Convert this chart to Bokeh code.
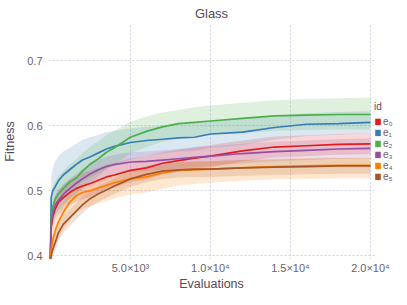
from bokeh.plotting import figure
from bokeh.models import Legend, LegendItem, FixedTicker, Range1d
from bokeh.embed import file_html
from bokeh.resources import INLINE

evals = [0, 50, 150, 300, 500, 800, 1200, 1600, 2000, 2500, 3000, 3500, 4000,
         5000, 6000, 7000, 8000, 9000, 10000, 12000, 14000, 16000, 18000, 20000]

e0_mean = [0.395, 0.445, 0.46, 0.472, 0.482, 0.489, 0.497, 0.503, 0.507, 0.511, 0.516, 0.521, 0.524,
           0.531, 0.535, 0.542, 0.546, 0.550, 0.553, 0.561, 0.567, 0.569, 0.571, 0.572]
e0_hi = [0.40, 0.465, 0.48, 0.492, 0.502, 0.509, 0.517, 0.523, 0.527, 0.531, 0.535, 0.540, 0.543,
         0.549, 0.553, 0.559, 0.563, 0.567, 0.570, 0.577, 0.583, 0.585, 0.587, 0.588]
e0_lo = [0.39, 0.425, 0.44, 0.452, 0.462, 0.469, 0.477, 0.483, 0.487, 0.491, 0.497, 0.502, 0.505,
         0.513, 0.517, 0.525, 0.529, 0.533, 0.536, 0.545, 0.551, 0.553, 0.555, 0.556]

e1_mean = [0.395, 0.49, 0.50, 0.506, 0.515, 0.524, 0.532, 0.540, 0.547, 0.552, 0.558, 0.564, 0.568,
           0.574, 0.577, 0.579, 0.581, 0.582, 0.587, 0.590, 0.597, 0.602, 0.603, 0.605]
e1_hi = [0.40, 0.52, 0.535, 0.545, 0.553, 0.560, 0.566, 0.572, 0.578, 0.582, 0.586, 0.590, 0.592,
         0.596, 0.598, 0.600, 0.602, 0.604, 0.607, 0.610, 0.615, 0.619, 0.621, 0.622]
e1_lo = [0.39, 0.46, 0.47, 0.475, 0.482, 0.49, 0.498, 0.506, 0.514, 0.52, 0.527, 0.534, 0.54,
         0.548, 0.553, 0.557, 0.560, 0.561, 0.566, 0.570, 0.578, 0.584, 0.586, 0.588]

e2_mean = [0.40, 0.46, 0.475, 0.487, 0.495, 0.503, 0.513, 0.519, 0.530, 0.541, 0.549, 0.559, 0.566,
           0.582, 0.591, 0.598, 0.603, 0.605, 0.607, 0.611, 0.615, 0.616, 0.617, 0.617]
e2_hi = [0.41, 0.49, 0.505, 0.515, 0.522, 0.530, 0.540, 0.548, 0.558, 0.568, 0.576, 0.585, 0.592,
         0.606, 0.614, 0.620, 0.624, 0.628, 0.631, 0.635, 0.639, 0.641, 0.642, 0.643]
e2_lo = [0.39, 0.43, 0.445, 0.458, 0.467, 0.476, 0.486, 0.492, 0.502, 0.513, 0.522, 0.533, 0.540,
         0.557, 0.567, 0.575, 0.581, 0.583, 0.585, 0.588, 0.592, 0.593, 0.594, 0.594]

e3_mean = [0.395, 0.45, 0.465, 0.478, 0.485, 0.494, 0.503, 0.511, 0.518, 0.526, 0.532, 0.537, 0.540,
           0.544, 0.545, 0.547, 0.549, 0.551, 0.553, 0.557, 0.560, 0.562, 0.564, 0.565]
e3_hi = [0.40, 0.465, 0.48, 0.493, 0.50, 0.509, 0.518, 0.526, 0.533, 0.541, 0.547, 0.552, 0.555,
         0.559, 0.560, 0.562, 0.564, 0.566, 0.568, 0.572, 0.575, 0.577, 0.579, 0.580]
e3_lo = [0.39, 0.435, 0.45, 0.463, 0.47, 0.479, 0.488, 0.496, 0.503, 0.511, 0.517, 0.522, 0.525,
         0.529, 0.530, 0.532, 0.534, 0.536, 0.538, 0.542, 0.545, 0.547, 0.549, 0.550]

e4_mean = [0.395, 0.41, 0.425, 0.438, 0.452, 0.466, 0.482, 0.492, 0.497, 0.500, 0.504, 0.508, 0.512,
           0.518, 0.521, 0.527, 0.531, 0.532, 0.533, 0.535, 0.537, 0.538, 0.539, 0.539]
e4_hi = [0.40, 0.425, 0.44, 0.452, 0.466, 0.48, 0.496, 0.505, 0.510, 0.513, 0.517, 0.521, 0.525,
         0.530, 0.533, 0.539, 0.543, 0.544, 0.545, 0.547, 0.549, 0.550, 0.551, 0.551]
e4_lo = [0.39, 0.395, 0.405, 0.415, 0.427, 0.44, 0.455, 0.466, 0.472, 0.476, 0.480, 0.484, 0.488,
         0.494, 0.497, 0.503, 0.508, 0.510, 0.512, 0.515, 0.517, 0.518, 0.519, 0.519]

e5_mean = [0.395, 0.40, 0.41, 0.42, 0.435, 0.448, 0.458, 0.468, 0.478, 0.488, 0.495, 0.501, 0.507,
           0.518, 0.525, 0.530, 0.532, 0.533, 0.533, 0.535, 0.536, 0.537, 0.538, 0.538]
e5_hi = [0.40, 0.41, 0.422, 0.433, 0.448, 0.461, 0.471, 0.481, 0.491, 0.500, 0.507, 0.513, 0.519,
         0.530, 0.537, 0.542, 0.544, 0.545, 0.545, 0.547, 0.548, 0.549, 0.550, 0.550]
e5_lo = [0.39, 0.39, 0.398, 0.407, 0.422, 0.435, 0.445, 0.455, 0.465, 0.476, 0.483, 0.489, 0.495,
         0.506, 0.513, 0.518, 0.520, 0.521, 0.521, 0.523, 0.524, 0.525, 0.526, 0.526]

ids = ["e\u2080", "e\u2081", "e\u2082", "e\u2083", "e\u2084", "e\u2085"]
colors = ["#e41a1c", "#377eb8", "#4daf4a", "#984ea3", "#ff7f00", "#a65628"]
x_ticks = [5000, 10000, 15000, 20000]
x_tick_labels = ["5.0\u00d710\u00b3", "1.0\u00d710\u2074", "1.5\u00d710\u2074", "2.0\u00d710\u2074"]
y_ticks = [0.4, 0.5, 0.6, 0.7]

series = [
    (e0_mean, e0_lo, e0_hi),
    (e1_mean, e1_lo, e1_hi),
    (e2_mean, e2_lo, e2_hi),
    (e3_mean, e3_lo, e3_hi),
    (e4_mean, e4_lo, e4_hi),
    (e5_mean, e5_lo, e5_hi),
]

FONT = "Liberation Sans"
LABEL_COL = "#564a55"
TICK_COL = "#6c606b"
NAN = float("nan")

p = figure(width=391, height=289, frame_width=326, frame_height=236,
           x_range=Range1d(-120, 20250), y_range=Range1d(0.394, 0.757),
           output_backend="svg", toolbar_location=None,
           min_border_left=42, min_border_right=0, min_border_top=15, min_border_bottom=0,
           title="Glass")
p.outline_line_color = None
p.background_fill_color = "white"

p.title.align = "center"
p.title.text_font = FONT
p.title.text_font_size = "13px"
p.title.text_font_style = "normal"
p.title.text_color = LABEL_COL
p.title.standoff = 6

for (m, lo, hi), c in zip(series, colors):
    p.varea(x=evals, y1=lo, y2=hi, fill_color=c, fill_alpha=0.18)

for (m, lo, hi), c in zip(series, colors):
    p.line(x=evals, y=m, line_color=c, line_width=1.7)

# legend swatches (not drawn in the plot area: NaN extents)
items = []
for name, c in zip(ids, colors):
    r = p.quad(left=[NAN], right=[NAN], bottom=[NAN], top=[NAN],
               fill_color=c, fill_alpha=1.0, line_color=None)
    items.append(LegendItem(label=name, renderers=[r]))

legend = Legend(items=items, location="center_left", title="id")
legend.title_text_font = FONT
legend.title_text_font_size = "10px"
legend.title_text_font_style = "normal"
legend.title_text_color = LABEL_COL
legend.title_standoff = 4
legend.label_text_font = FONT
legend.label_text_font_size = "10px"
legend.label_text_color = TICK_COL
legend.label_height = 11
legend.glyph_height = 8
legend.glyph_width = 7
legend.label_standoff = 2
legend.spacing = 0
legend.padding = 6
legend.margin = 0
legend.border_line_color = None
legend.background_fill_alpha = 0
p.add_layout(legend, "right")

for ax in (p.xaxis[0], p.yaxis[0]):
    ax.axis_line_color = None
    ax.major_tick_line_color = None
    ax.minor_tick_line_color = None
    ax.major_tick_out = 0
    ax.major_tick_in = 0
    ax.minor_tick_out = 0
    ax.minor_tick_in = 0
    ax.major_label_text_font = FONT
    ax.major_label_text_font_size = "11px"
    ax.major_label_text_color = TICK_COL
    ax.axis_label_text_font = FONT
    ax.axis_label_text_font_size = "12.5px"
    ax.axis_label_text_font_style = "normal"
    ax.axis_label_text_color = LABEL_COL

p.xaxis.axis_label = "Evaluations"
p.yaxis.axis_label = "Fitness"
p.xaxis.ticker = FixedTicker(ticks=x_ticks)
p.xaxis.major_label_overrides = dict(zip(x_ticks, x_tick_labels))
p.yaxis.ticker = FixedTicker(ticks=y_ticks)
p.xaxis.major_label_standoff = 2
p.xaxis.axis_label_standoff = 0
p.yaxis.major_label_standoff = 6
p.yaxis.axis_label_standoff = 7

for g in (p.xgrid[0], p.ygrid[0]):
    g.grid_line_color = "#d0d0e0"
    g.grid_line_dash = "2 2"
    g.grid_line_width = 1

open("out.html", "w").write(file_html(p, INLINE))
